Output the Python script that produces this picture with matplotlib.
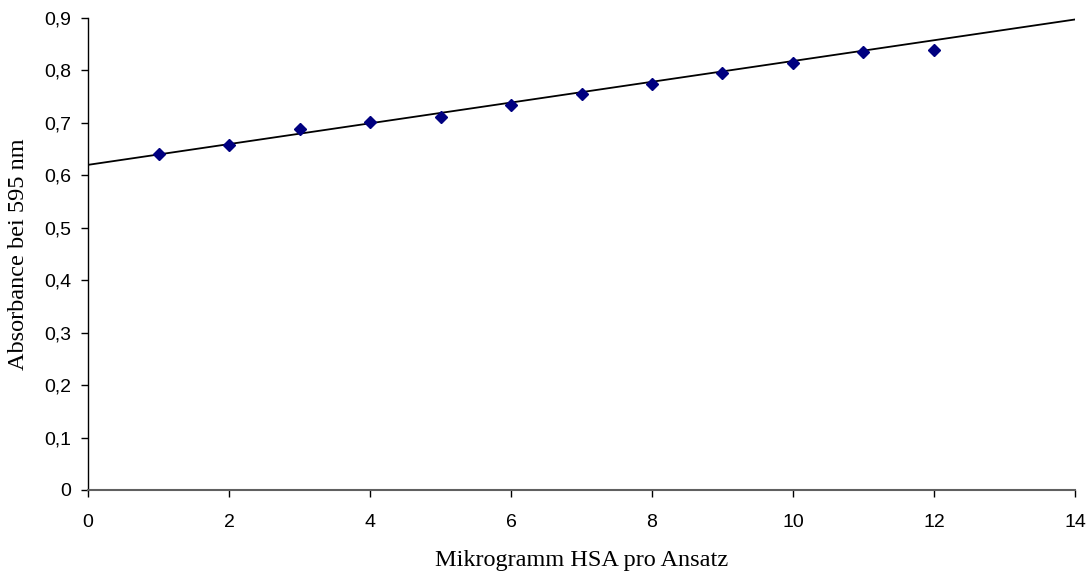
import numpy as np
import matplotlib
matplotlib.use("Agg")
import matplotlib.pyplot as plt
from matplotlib.ticker import FuncFormatter

hsa_ug = [1, 2, 3, 4, 5, 6, 7, 8, 9, 10, 11, 12]
absorbance = [0.641, 0.658, 0.688, 0.701, 0.711, 0.735, 0.756, 0.775, 0.796, 0.814, 0.836, 0.839]

# Trendlinie
trend_intercept = 0.620
trend_slope = 0.0198
trend_x = [0, 14]

x_ticks = [0, 2, 4, 6, 8, 10, 12, 14]
y_ticks = [0, 0.1, 0.2, 0.3, 0.4, 0.5, 0.6, 0.7, 0.8, 0.9]

fig = plt.figure(figsize=(10.91, 5.72), dpi=100)
ax = fig.add_axes([0.0807, 0.1434, 0.9046, 0.8251])

tx = np.array(trend_x, dtype=float)
ax.plot(tx, trend_intercept + trend_slope * tx, color="black", lw=1.3, zorder=2)
ax.plot(hsa_ug, absorbance, "D", color="#000080", markersize=6.3, zorder=3)

ax.set_xlim(0, 14)
ax.set_ylim(0, 0.9)
ax.set_xticks(x_ticks)
ax.set_yticks(y_ticks)
ax.yaxis.set_major_formatter(FuncFormatter(lambda v, p: "0" if v == 0 else f"{v:.1f}".replace(".", ",")))

for s in ["top", "right"]:
    ax.spines[s].set_visible(False)
ax.spines["left"].set_color("black")
ax.spines["bottom"].set_color("#606060")
ax.spines["left"].set_linewidth(1.0)
ax.spines["bottom"].set_linewidth(1.5)
ax.tick_params(direction="out", length=5, width=1, color="black", labelsize=14)
ax.tick_params(axis="x", pad=12)
ax.tick_params(axis="y", pad=7)
for lbl in ax.get_xticklabels() + ax.get_yticklabels():
    lbl.set_family("Liberation Sans")

ax.set_xlabel("Mikrogramm HSA pro Ansatz", family="Liberation Serif", fontsize=17.5, labelpad=14)
ax.set_ylabel("Absorbance bei 595 nm", family="Liberation Serif", fontsize=17.5, labelpad=11)

fig.savefig("out.png", dpi=100)
